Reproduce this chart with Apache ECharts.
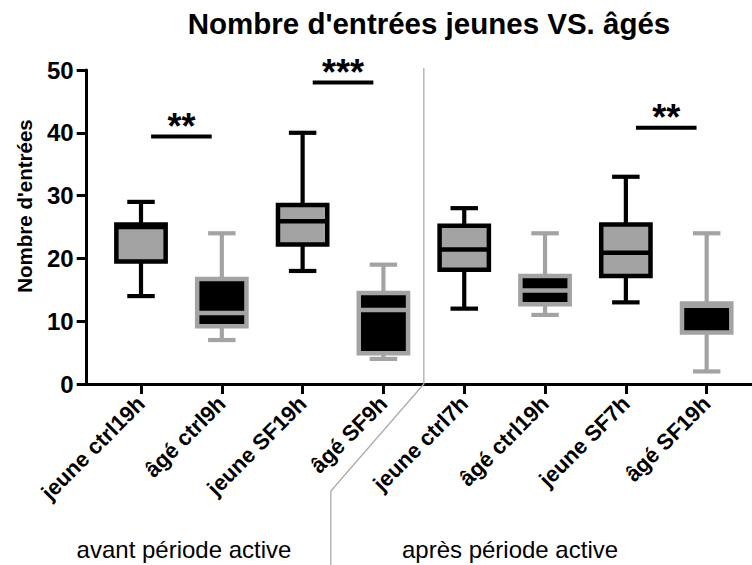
<!DOCTYPE html>
<html>
<head>
<meta charset="utf-8">
<script src="https://cdn.jsdelivr.net/npm/echarts@6/dist/echarts.min.js"></script>
<style>
html,body{margin:0;padding:0;background:#fff;}
#chart{width:752px;height:565px;}
</style>
</head>
<body>
<div id="chart"></div>
<script>
// ---- data ----
const categories = ['jeune ctrl19h', 'âgé ctrl9h', 'jeune SF19h', 'âgé SF9h',
                    'jeune ctrl7h', 'âgé ctrl19h', 'jeune SF7h', 'âgé SF19h'];
const whiskerMin = [14, 7, 18, 4, 12, 11, 13, 2];
const quartile1  = [19.5, 9.2, 22.2, 4.9, 18.2, 12.7, 17.2, 8.2];
const medians    = [25.0, 11.3, 25.9, 11.8, 21.4, 14.9, 20.9, 12.45];
const quartile3  = [25.4, 16.7, 28.5, 14.5, 25.2, 17.2, 25.4, 12.8];
const whiskerMax = [29, 24, 40, 19, 28, 24, 33, 24];
const yTicks = [0, 10, 20, 30, 40, 50];
const sigFrom = [0, 2, 6];
const sigTo = [1, 3, 7];
const sigLevel = [39.4, 48, 40.8];
const sigText = ['**', '***', '**'];
const groupLabels = ['avant période active', 'après période active'];
const groupBoundary = [3.5];
const titleText = "Nombre d'entrées jeunes VS. âgés";
const yName = "Nombre d'entrées";

// ---- styles ----
const FONT = "'Liberation Sans', Arial, sans-serif";
const GRAY = '#a3a3a3';
const BLACK = '#000000';

function boxRows(pred) {
  const rows = [];
  categories.forEach((c, i) => {
    if (pred(c)) rows.push([i, whiskerMin[i], quartile1[i], medians[i], quartile3[i], whiskerMax[i]]);
  });
  return rows;
}

function makeBoxRender(fill, stroke) {
  return function (params, api) {
    const i = api.value(0);
    const unit = api.size([1, 0])[0];
    const boxW = unit * 0.61;
    const capW = unit * 0.34;
    const x = api.coord([i, 0])[0];
    const yMin = api.coord([i, api.value(1)])[1];
    const yQ1 = api.coord([i, api.value(2)])[1];
    const yMed = api.coord([i, api.value(3)])[1];
    const yQ3 = api.coord([i, api.value(4)])[1];
    const yMax = api.coord([i, api.value(5)])[1];
    const ls = { stroke: stroke, lineWidth: 4.2, fill: null };
    return {
      type: 'group',
      children: [
        { type: 'line', shape: { x1: x, y1: yMax, x2: x, y2: yQ3 }, style: ls },
        { type: 'line', shape: { x1: x, y1: yQ1, x2: x, y2: yMin }, style: ls },
        { type: 'line', shape: { x1: x - capW / 2, y1: yMax, x2: x + capW / 2, y2: yMax }, style: ls },
        { type: 'line', shape: { x1: x - capW / 2, y1: yMin, x2: x + capW / 2, y2: yMin }, style: ls },
        { type: 'rect', shape: { x: x - boxW / 2, y: yQ3, width: boxW, height: yQ1 - yQ3 },
          style: { fill: fill, stroke: stroke, lineWidth: 4.5 } },
        { type: 'line', shape: { x1: x - boxW / 2, y1: yMed, x2: x + boxW / 2, y2: yMed },
          style: { stroke: stroke, lineWidth: 4.5 } }
      ]
    };
  };
}

const sigRows = sigFrom.map((f, k) => [f, sigTo[k], sigLevel[k], k]);

const chart = echarts.init(document.getElementById('chart'), null, { renderer: 'svg' });
chart.setOption({
  backgroundColor: '#ffffff',
  animation: false,
  title: {
    text: titleText,
    left: 424,
    top: 3,
    textAlign: 'center',
    textStyle: { fontFamily: FONT, fontWeight: 'bold', fontSize: 29.5, color: BLACK }
  },
  grid: { left: 86.7, right: 0, top: 70, bottom: 181, containLabel: false },
  xAxis: {
    type: 'value',
    min: -0.672,
    max: 7.561,
    splitLine: { show: false },
    axisLine: { show: true, onZero: false, lineStyle: { color: BLACK, width: 3 } },
    axisTick: { show: true, length: 10, lineStyle: { color: BLACK, width: 3 },
                customValues: categories.map((c, i) => i) },
    axisLabel: {
      customValues: categories.map((c, i) => i),
      formatter: v => categories[Math.round(v)],
      rotate: 45, margin: 16,
      fontFamily: FONT, fontWeight: 'bold', fontSize: 22, color: BLACK
    }
  },
  yAxis: {
    type: 'value',
    min: 0, max: 50, interval: 10,
    splitLine: { show: false },
    axisLine: { show: true, onZero: false, lineStyle: { color: BLACK, width: 3 } },
    axisTick: { show: true, length: 10, lineStyle: { color: BLACK, width: 3 } },
    axisLabel: { margin: 13, fontFamily: FONT, fontWeight: 'bold', fontSize: 24, color: BLACK },
    name: yName,
    nameLocation: 'middle',
    nameRotate: 90,
    nameGap: 52,
    nameTextStyle: { fontFamily: FONT, fontWeight: 'bold', fontSize: 20.5, color: BLACK, padding: [0, 0, 0, 42] }
  },
  series: [
    {
      name: 'jeune', type: 'custom',
      data: boxRows(c => c.startsWith('jeune')),
      encode: { x: 0, y: [1, 2, 3, 4, 5] },
      renderItem: makeBoxRender(GRAY, BLACK), z: 3
    },
    {
      name: 'âgé', type: 'custom',
      data: boxRows(c => !c.startsWith('jeune')),
      encode: { x: 0, y: [1, 2, 3, 4, 5] },
      renderItem: makeBoxRender(BLACK, GRAY), z: 3
    },
    {
      name: 'significance', type: 'custom',
      data: sigRows,
      encode: { x: [0, 1], y: 2 },
      renderItem: function (params, api) {
        const a = api.coord([api.value(0) + 0.125, api.value(2)]);
        const b = api.coord([api.value(1) - 0.125, api.value(2)]);
        const label = sigText[api.value(3)];
        return {
          type: 'group',
          children: [
            { type: 'line', shape: { x1: a[0], y1: a[1], x2: b[0], y2: b[1] },
              style: { stroke: BLACK, lineWidth: 4 } },
            { type: 'text', x: (a[0] + b[0]) / 2, y: a[1] - 10,
              style: { text: label, fill: BLACK, font: 'bold 36px ' + FONT,
                       align: 'center', verticalAlign: 'middle' } }
          ]
        };
      }, z: 4
    },
    {
      name: 'separator', type: 'custom',
      data: groupBoundary.map(v => [v]),
      encode: { x: 0 },
      clip: false,
      renderItem: function (params, api) {
        const top = api.coord([api.value(0), 50.3]);
        const base = api.coord([api.value(0), 0]);
        const kink = [base[0] - 93, base[1] + 107];
        return {
          type: 'polyline',
          shape: { points: [top, base, kink, [kink[0], api.getHeight()]] },
          style: { stroke: '#aaaaaa', lineWidth: 1.3, fill: null }
        };
      }, z: 1
    }
  ],
  graphic: [
    { type: 'text', x: 184, y: 549,
      style: { text: groupLabels[0], fill: BLACK, font: '24px ' + FONT, align: 'center', verticalAlign: 'middle' } },
    { type: 'text', x: 510, y: 549,
      style: { text: groupLabels[1], fill: BLACK, font: '24px ' + FONT, align: 'center', verticalAlign: 'middle' } }
  ]
});
</script>
</body>
</html>
